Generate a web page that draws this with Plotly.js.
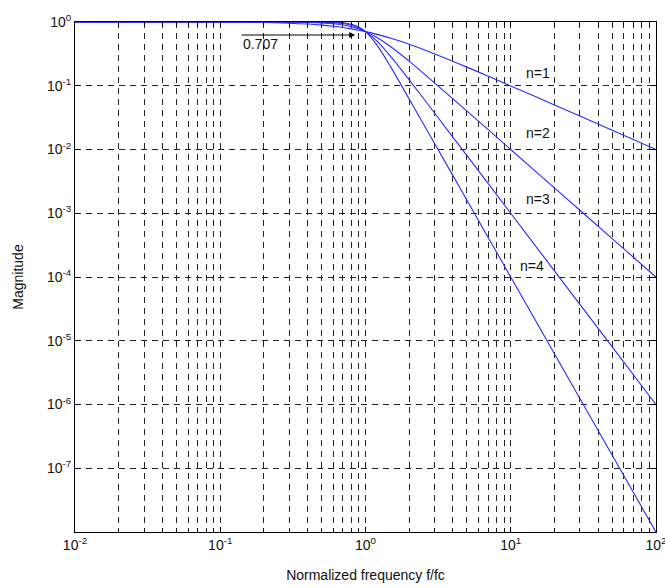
<!DOCTYPE html>
<html><head><meta charset="utf-8">
<script src="https://cdn.plot.ly/plotly-3.0.1.min.js"></script>
<style>html,body{margin:0;padding:0;background:#fff;}</style>
</head><body><div id="chart" style="width:665px;height:588px;"></div>
<script>
const freq = [0.01, 0.1, 0.2, 0.3, 0.4, 0.5, 0.6, 0.7, 0.8, 0.9, 1, 1.2, 1.5, 2, 3, 5, 10, 20, 50, 100];
const magN1 = [1, 0.995, 0.98, 0.958, 0.928, 0.894, 0.857, 0.819, 0.781, 0.743, 0.707, 0.64, 0.555, 0.447, 0.316, 0.196, 0.0995, 0.05, 0.02, 0.01];
const magN2 = [1, 1, 0.999, 0.996, 0.987, 0.970, 0.94, 0.898, 0.842, 0.777, 0.707, 0.57, 0.406, 0.243, 0.11, 0.04, 0.01, 0.0025, 0.0004, 0.0001];
const magN3 = [1, 1, 1, 1, 0.998, 0.992, 0.977, 0.946, 0.89, 0.808, 0.707, 0.501, 0.284, 0.124, 0.037, 0.008, 0.001, 0.000125, 0.000008, 0.000001];
const magN4 = [1, 1, 1, 1, 1, 0.998, 0.992, 0.975, 0.925, 0.836, 0.707, 0.434, 0.194, 0.062, 0.0123, 0.0016, 0.0001, 0.00000625, 0.00000016, 0.00000001];
const seriesNames = ['n=1', 'n=2', 'n=3', 'n=4'];
const xTickVals = [0.01, 0.1, 1, 10, 100];
const xTickText = ['10<sup>-2</sup>', '10<sup>-1</sup>', '10<sup>0</sup>', '10<sup>1</sup>', '10<sup>2</sup>'];
const yTickVals = [1, 0.1, 0.01, 0.001, 0.0001, 0.00001, 0.000001, 0.0000001];
const yTickText = ['10<sup>0</sup>', '10<sup>-1</sup>', '10<sup>-2</sup>', '10<sup>-3</sup>', '10<sup>-4</sup>', '10<sup>-5</sup>', '10<sup>-6</sup>', '10<sup>-7</sup>'];
const labelPos = [[15.5, 0.158], [15.5, 0.018], [15.5, 0.0017], [14, 0.00015]];

const mags = [magN1, magN2, magN3, magN4];
const traces = mags.map((m, i) => ({
  x: freq, y: m, type: 'scatter', mode: 'lines', name: seriesNames[i],
  line: {color: '#2a2aff', width: 1.1, shape: 'spline', smoothing: 0.8}
}));

const gridC = '#222';
const font = {family: 'Liberation Sans, Arial, sans-serif', size: 14, color: '#111'};
const annotations = labelPos.map((p, i) => ({
  x: Math.log10(p[0]), y: Math.log10(p[1]), xref: 'x', yref: 'y', text: seriesNames[i],
  showarrow: false, font: font
}));
annotations.push({
  x: Math.log10(0.85), y: Math.log10(0.625), ax: Math.log10(0.137), ay: Math.log10(0.625),
  xref: 'x', yref: 'y', axref: 'x', ayref: 'y', showarrow: true, arrowhead: 2,
  arrowsize: 1, arrowwidth: 1.2, arrowcolor: '#000', text: ''
});
annotations.push({
  x: Math.log10(0.19), y: Math.log10(0.45), xref: 'x', yref: 'y', text: '0.707',
  showarrow: false, font: font
});

const layout = {
  width: 665, height: 588,
  margin: {l: 75, r: 9, t: 22, b: 56},
  paper_bgcolor: '#fff', plot_bgcolor: '#fff',
  showlegend: false, font: font,
  xaxis: {
    type: 'log', range: [-2, 2.0005], tickvals: xTickVals, ticktext: xTickText,
    showgrid: true, gridcolor: gridC, griddash: '6px,5px', gridwidth: 1,
    ticks: 'inside', ticklen: 5, tickcolor: '#000', mirror: 'ticks',
    showline: true, linecolor: '#000', linewidth: 1, zeroline: false,
    ticklabeloverflow: 'allow',
    minor: {tickvals: [0.02,0.03,0.04,0.05,0.06,0.07,0.08,0.09,0.2,0.3,0.4,0.5,0.6,0.7,0.8,0.9,2,3,4,5,6,7,8,9,20,30,40,50,60,70,80,90],
      showgrid: true, gridcolor: gridC, griddash: '6px,5px', gridwidth: 1, ticks: 'inside', ticklen: 3, tickcolor: '#000'},
    title: {text: 'Normalized frequency f/fc', font: font, standoff: 18},
    tickfont: font
  },
  yaxis: {
    type: 'log', range: [-8, 0], tickvals: yTickVals, ticktext: yTickText,
    showgrid: true, gridcolor: gridC, griddash: '6px,5px', gridwidth: 1,
    ticks: 'inside', ticklen: 5, tickcolor: '#000', mirror: 'ticks',
    showline: true, linecolor: '#000', linewidth: 1, zeroline: false,
    title: {text: 'Magnitude', font: font, standoff: 20},
    tickfont: font
  },
  annotations: annotations
};
Plotly.newPlot('chart', traces, layout, {displayModeBar: false, staticPlot: true});
</script></body></html>
